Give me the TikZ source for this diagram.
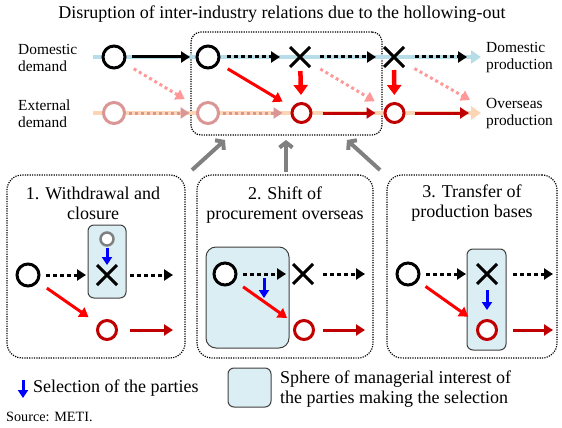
\documentclass[tikz,border=0pt]{standalone}
\usepackage{fontspec}
\setmainfont{Liberation Serif}[Ligatures=TeX]
\newfontfamily\lserif{Liberation Serif}
\usetikzlibrary{arrows.meta,shapes.misc}
\definecolor{lbline}{HTML}{B7DEE8}
\definecolor{peach}{HTML}{FCD5B5}
\definecolor{rosy}{HTML}{D99694}
\definecolor{lpink}{HTML}{FF9999}
\definecolor{dred}{HTML}{C00000}
\definecolor{bfill}{HTML}{DBEEF4}
\definecolor{bdraw}{HTML}{404040}
\definecolor{midgray}{HTML}{808080}
\begin{document}
\begin{tikzpicture}[x=1pt,y=-1pt,
  bcirc/.style={circle, draw=black, fill=white, line width=3pt, minimum size=22pt, inner sep=0pt},
  pcirc/.style={bcirc, draw=rosy, minimum size=21pt},
  rcirc/.style={bcirc, draw=dred, minimum size=19pt},
  gcirc/.style={bcirc, draw=midgray, line width=2.5pt, minimum size=13pt},
  xmark/.style={cross out, draw=black, line width=3pt, minimum size=17pt, inner sep=0pt},
  blkarr/.style={line width=3pt, -{Triangle[length=9pt,width=11pt]}},
  dotarr/.style={blkarr, dash pattern=on 3.5pt off 3.5pt},
  rosyarr/.style={blkarr, rosy, dash pattern=on 3pt off 3pt},
  pdiag/.style={blkarr, lpink, dash pattern=on 3pt off 3pt},
  redarr/.style={blkarr, red},
  dredarr/.style={blkarr, dred},
  rdown/.style={line width=4.5pt, red, -{Triangle[length=10pt,width=14pt]}},
  bluearr/.style={line width=3pt, blue, -{Triangle[length=8pt,width=10pt]}},
  garr/.style={line width=4pt, midgray, -{Straight Barb[length=5pt,width=13pt]}},
  flow/.style={line width=4pt, #1, -{Triangle[length=10pt,width=13pt]}},
  dotbox/.style={draw, rounded corners=#1, line width=1.2pt, dash pattern=on 1.2pt off 1.2pt, inner sep=0pt},
  bluebox/.style={draw=bdraw, fill=bfill, line width=1pt, rounded corners=#1, inner sep=0pt},
  lbl/.style={align=left, font=\lserif\fontsize{15.4}{17}\selectfont, inner sep=0pt},
  ttl/.style={align=center, font=\lserif\fontsize{18}{20}\selectfont, inner sep=0pt},
  lgd/.style={align=left, font=\lserif\fontsize{18}{20}\selectfont, inner sep=0pt},
  srcs/.style={font=\lserif\fontsize{14.2}{16}\selectfont, inner sep=0pt}
]
\useasboundingbox (0,0) rectangle (562,428);

% title
\node[ttl] (title) at (282,14) {Disruption of inter-industry relations due to the hollowing-out};

% main dotted box
\node[dotbox=10pt, minimum width=191pt, minimum height=103pt] (main) at (286.5,83.5) {};

% flow lines
\coordinate (lbS) at (93,57); \coordinate (lbE) at (481,57);
\coordinate (obS) at (93,113); \coordinate (obE) at (481,113);
\draw[flow=lbline] (lbS) -- (lbE);
\draw[flow=peach] (obS) -- (obE);

% side labels
\node[lbl, anchor=west] (dd) at (18,58) {Domestic\\demand};
\node[lbl, anchor=west] (ed) at (18,114) {External\\demand};
\node[lbl, anchor=west] (dp) at (486,58) {Domestic\\production};
\node[lbl, anchor=west] (op) at (486,114) {Overseas\\production};

% top row nodes
\node[bcirc] (c1) at (114,57) {};
\node[bcirc] (c2) at (208,57) {};
\node[xmark] (x1) at (300,57) {};
\node[xmark] (x2) at (394,57) {};
\node[pcirc] (p1) at (114,113) {};
\node[pcirc] (p2) at (208,113) {};
\node[rcirc] (r1) at (301.5,113) {};
\node[rcirc] (r2) at (394.5,113) {};
\coordinate (tE) at (467,57);
\coordinate (bE) at (469,113);
\coordinate (dE) at (470,100);

% top row arrows
\draw[blkarr, shorten <=5.5pt, shorten >=5.5pt] (c1) -- (c2);
\draw[dotarr, shorten <=6.5pt, shorten >=10pt] (c2) -- (x1);
\draw[dotarr, shorten <=10pt, shorten >=8pt] (x1) -- (x2);
\draw[dotarr, shorten <=11pt] (x2) -- (tE);
\draw[rosyarr, shorten <=3pt, shorten >=6.5pt] (p1) -- (p2);
\draw[rosyarr, shorten <=2.5pt, shorten >=8pt] (p2) -- (r1);
\draw[dredarr, shorten <=10pt, shorten >=8pt] (r1) -- (r2);
\draw[dredarr, shorten <=9pt] (r2) -- (bE);
\draw[pdiag, shorten <=10.5pt, shorten >=15pt] (c1) -- (p2);
\draw[redarr, shorten <=10.5pt, shorten >=11pt] (c2) -- (r1);
\draw[pdiag, shorten <=12pt, shorten >=12pt] (x1) -- (r2);
\draw[pdiag, shorten <=12pt] (x2) -- (dE);
\draw[rdown, shorten <=4pt, shorten >=7pt] (x1) -- (r1);
\draw[rdown, shorten <=3pt, shorten >=7pt] (x2) -- (r2);

% lower boxes
\node[dotbox=15pt, minimum width=178pt, minimum height=183pt] (box1) at (96,266.5) {};
\node[dotbox=15pt, minimum width=176pt, minimum height=183pt] (box2) at (285,266.5) {};
\node[dotbox=15pt, minimum width=170pt, minimum height=183pt] (box3) at (472,266.5) {};
\node[ttl] (t1) at (93,203) {1. Withdrawal and\\closure};
\node[ttl] (t2) at (285,205) {2. Shift of\\procurement overseas};
\node[ttl] (t3) at (472,203) {3. Transfer of\\production bases};

% gray arrows
\coordinate (g1s) at (192,170); \coordinate (g1e) at (225,140);
\coordinate (g2s) at (286,172); \coordinate (g2e) at (286,140);
\coordinate (g3s) at (380,170); \coordinate (g3e) at (347,140);
\draw[garr] (g1s) -- (g1e);
\draw[garr] (g2s) -- (g2e);
\draw[garr] (g3s) -- (g3e);

% box 1
\node[bluebox=6pt, minimum width=38pt, minimum height=73pt] (b1) at (107,261.5) {};
\node[bcirc] (k1) at (28,275) {};
\node[gcirc] (g1) at (107,239) {};
\node[xmark] (y1) at (107,275) {};
\node[rcirc] (d1) at (107,330) {};
\coordinate (e1a) at (173,275); \coordinate (e1b) at (173,330);
\draw[dotarr, shorten <=5.5pt, shorten >=11pt] (k1) -- (y1);
\draw[dotarr, shorten <=13pt] (y1) -- (e1a);
\draw[bluearr, shorten <=1pt, shorten >=0pt] (g1) -- (y1);
\draw[redarr, shorten <=10.5pt, shorten >=11.5pt] (k1) -- (d1);
\draw[dredarr, shorten <=12pt] (d1) -- (e1b);

% box 2
\node[bluebox=10pt, minimum width=83pt, minimum height=101pt] (b2) at (247.5,297.5) {};
\node[bcirc] (k2) at (225,274) {};
\node[xmark] (y2) at (303,274) {};
\node[rcirc] (d2) at (304,330) {};
\coordinate (e2a) at (365,274); \coordinate (e2b) at (365,330);
\coordinate (s2a) at (264,278); \coordinate (s2b) at (264,298);
\draw[dotarr, shorten <=5.5pt, shorten >=7pt] (k2) -- (y2);
\draw[dotarr, shorten <=10pt] (y2) -- (e2a);
\draw[bluearr] (s2a) -- (s2b);
\draw[redarr, shorten <=9.7pt, shorten >=9.8pt] (k2) -- (d2);
\draw[dredarr, shorten <=8pt] (d2) -- (e2b);

% box 3
\node[bluebox=6pt, minimum width=39pt, minimum height=101pt] (b3) at (486.5,299.5) {};
\node[bcirc] (k3) at (408,274) {};
\node[xmark] (y3) at (487,274) {};
\node[rcirc] (d3) at (487,330) {};
\coordinate (e3a) at (553,274); \coordinate (e3b) at (553,330);
\draw[dotarr, shorten <=5.5pt, shorten >=11pt] (k3) -- (y3);
\draw[dotarr, shorten <=16pt] (y3) -- (e3a);
\draw[bluearr, shorten <=6pt, shorten >=9pt] (y3) -- (d3);
\draw[redarr, shorten <=9pt, shorten >=12pt] (k3) -- (d3);
\draw[dredarr, shorten <=15pt] (d3) -- (e3b);

% legend
\coordinate (la1) at (23,380); \coordinate (la2) at (23,398);
\draw[bluearr] (la1) -- (la2);
\node[lgd, anchor=west] (lsel) at (33,388) {Selection of the parties};
\node[bluebox=6pt, minimum width=43pt, minimum height=39pt] (lbox) at (249.5,387.5) {};
\node[lgd, anchor=west] (lsph) at (280,389) {Sphere of managerial interest of\\the parties making the selection};
\node[srcs, anchor=west] (srcn) at (6,417) {Source: METI.};
\end{tikzpicture}
\end{document}
